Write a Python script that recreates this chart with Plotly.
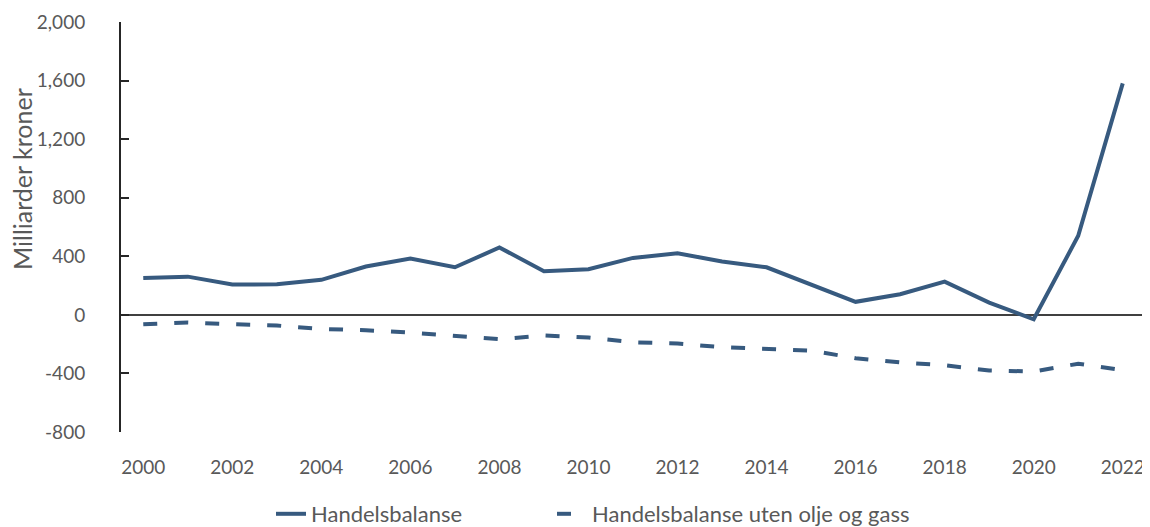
import plotly.graph_objects as go

years = list(range(2000, 2023))
handelsbalanse = [252, 261, 207, 209, 239, 330, 384, 325, 460, 298, 312, 389,
                  421, 364, 325, 205, 89, 141, 227, 84, -30, 540, 1581]
uten_olje_gass = [-64, -52, -64, -73, -96, -105, -121, -145, -166, -141, -155, -187,
                  -196, -221, -232, -244, -296, -325, -344, -380, -387, -334, -377]
x_ticks = list(range(2000, 2023, 2))
y_ticks = [-800, -400, 0, 400, 800, 1200, 1600, 2000]

color = "#375A7F"
font_family = "Lato, 'Open Sans', sans-serif"

# page body has an 8px margin; figure sized to fit the 1150x527 window
OFF = 8
W, H = 1150 - OFF, 527 - OFF
L, R, T, B = 121 - OFF, 5, 22 - OFF, 95
pw = W - L - R
ph = H - T - B

legend_y = (H - B - (514 - OFF)) / ph
legend_font = dict(size=22, color="#595959")

fig = go.Figure()
fig.add_trace(go.Scatter(x=years, y=handelsbalanse, mode="lines", name="Handelsbalanse",
                         line=dict(color=color, width=4), legend="legend"))
fig.add_trace(go.Scatter(x=years, y=uten_olje_gass, mode="lines",
                         name="Handelsbalanse uten olje og gass",
                         line=dict(color=color, width=4, dash="14px,17px"),
                         legend="legend2"))

fig.update_layout(
    width=W, height=H,
    margin=dict(l=L, r=R, t=T, b=B, autoexpand=False),
    paper_bgcolor="white", plot_bgcolor="white",
    font=dict(family=font_family, size=19, color="#595959"),
    showlegend=True,
    legend=dict(orientation="h", x=(271 - OFF - L) / pw, xanchor="left",
                y=legend_y, yanchor="middle", font=legend_font),
    legend2=dict(orientation="h", x=(552 - OFF - L) / pw, xanchor="left",
                 y=legend_y, yanchor="middle", font=legend_font),
    annotations=[dict(text="Milliarder kroner", textangle=-90, showarrow=False,
                      xref="paper", yref="paper",
                      x=(22 - OFF - L) / pw, y=(H - B - (179 - OFF)) / ph,
                      xanchor="center", yanchor="middle",
                      font=dict(size=25, color="#595959"))],
)
fig.update_xaxes(
    range=[1999.5, 2022.5], tickmode="array", tickvals=x_ticks,
    ticktext=[str(v) for v in x_ticks],
    showline=False, showgrid=False, zeroline=False, ticks="",
    ticklabelstandoff=22, automargin=False, ticklabeloverflow="allow",
)
fig.update_yaxes(
    range=[-800, 2000], tickmode="array", tickvals=y_ticks,
    ticktext=[f"{v:,}" for v in y_ticks],
    showline=True, linecolor="#262626", linewidth=2,
    ticks="inside", ticklen=8, tickwidth=2, tickcolor="#262626",
    showgrid=False, zeroline=True, zerolinecolor="#404040", zerolinewidth=2,
    ticklabelstandoff=30, automargin=False, ticklabeloverflow="allow",
)

fig.write_html("out.html")
